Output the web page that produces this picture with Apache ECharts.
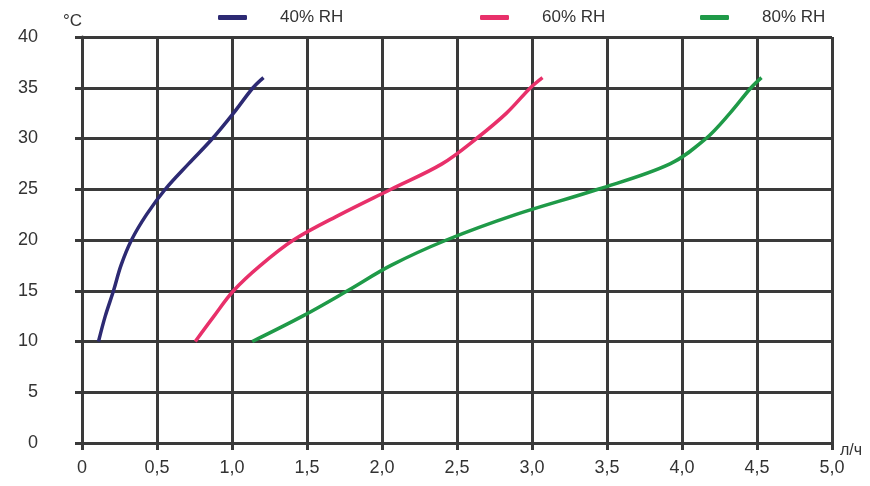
<!DOCTYPE html>
<html>
<head>
<meta charset="utf-8">
<script src="https://cdn.jsdelivr.net/npm/echarts@6/dist/echarts.min.js"></script>
<style>
  html, body { margin: 0; padding: 0; background: #fff; }
  #chart { width: 870px; height: 486px; }
</style>
</head>
<body>
<div id="chart"></div>
<script>
// temperature (°C) read at each point, shared by all three curves
var temps = [10, 12.5, 15, 17.5, 20, 22.5, 25, 27.5, 30, 32.5, 35, 36];
// flow (л/ч) for each humidity curve
var flow40 = [0.11, 0.155, 0.21, 0.26, 0.33, 0.43, 0.555, 0.71, 0.87, 1.01, 1.14, 1.21];
var flow60 = [0.755, 0.88, 1.01, 1.19, 1.41, 1.72, 2.06, 2.40, 2.63, 2.83, 2.99, 3.07];
var flow80 = [1.135, 1.47, 1.77, 2.06, 2.43, 2.89, 3.44, 3.92, 4.16, 4.32, 4.46, 4.53];
var seriesNames = ['40% RH', '60% RH', '80% RH'];
var xTickLabels = ['0', '0,5', '1,0', '1,5', '2,0', '2,5', '3,0', '3,5', '4,0', '4,5', '5,0'];

function pairs(xs) {
  var arr = [];
  for (var i = 0; i < xs.length; i++) {
    arr.push([xs[i], temps[i]]);
  }
  return arr;
}

var gridLine = { color: '#3a3a3a', width: 3 };
var font = 'Liberation Sans, Arial, sans-serif';
var colors = ['#2d2a73', '#e8306a', '#1f9a48'];

function legendAt(left, name) {
  return {
    left: left,
    top: 9,
    padding: 0,
    data: [name],
    icon: 'roundRect',
    itemWidth: 29,
    itemHeight: 5,
    textStyle: { fontFamily: font, fontSize: 17, color: '#333', padding: [3, 0, 0, 28] }
  };
}

function line(i, xs) {
  return {
    name: seriesNames[i],
    type: 'line',
    data: pairs(xs),
    smooth: 0.35,
    showSymbol: false,
    lineStyle: { width: 3.5 }
  };
}

var chart = echarts.init(document.getElementById('chart'));
chart.setOption({
  animation: false,
  color: colors,
  legend: [
    legendAt(218, seriesNames[0]),
    legendAt(480, seriesNames[1]),
    legendAt(700, seriesNames[2])
  ],
  grid: { left: 82, right: 38, top: 37, bottom: 43, containLabel: false },
  xAxis: {
    type: 'value',
    min: 0,
    max: 5,
    interval: 0.5,
    name: 'л/ч',
    nameLocation: 'end',
    nameGap: 8,
    nameTextStyle: { fontFamily: font, fontSize: 16, color: '#333', verticalAlign: 'top', align: 'left' },
    axisLine: { show: true, lineStyle: gridLine },
    axisTick: { show: true, length: 7, lineStyle: gridLine },
    splitLine: { show: true, lineStyle: gridLine },
    axisLabel: {
      margin: 16,
      fontFamily: font,
      fontSize: 18,
      color: '#333',
      formatter: function (v) { return xTickLabels[Math.round(v / 0.5)]; }
    }
  },
  yAxis: {
    type: 'value',
    min: 0,
    max: 40,
    interval: 5,
    name: '°C',
    nameLocation: 'end',
    nameGap: 16,
    nameTextStyle: { fontFamily: font, fontSize: 17, color: '#333', align: 'right', verticalAlign: 'middle' },
    axisLine: { show: true, lineStyle: gridLine },
    axisTick: { show: true, length: 7, lineStyle: gridLine },
    splitLine: { show: true, lineStyle: gridLine },
    axisLabel: { margin: 44, fontFamily: font, fontSize: 18, color: '#333' }
  },
  series: [
    line(0, flow40),
    line(1, flow60),
    line(2, flow80)
  ]
});
</script>
</body>
</html>
